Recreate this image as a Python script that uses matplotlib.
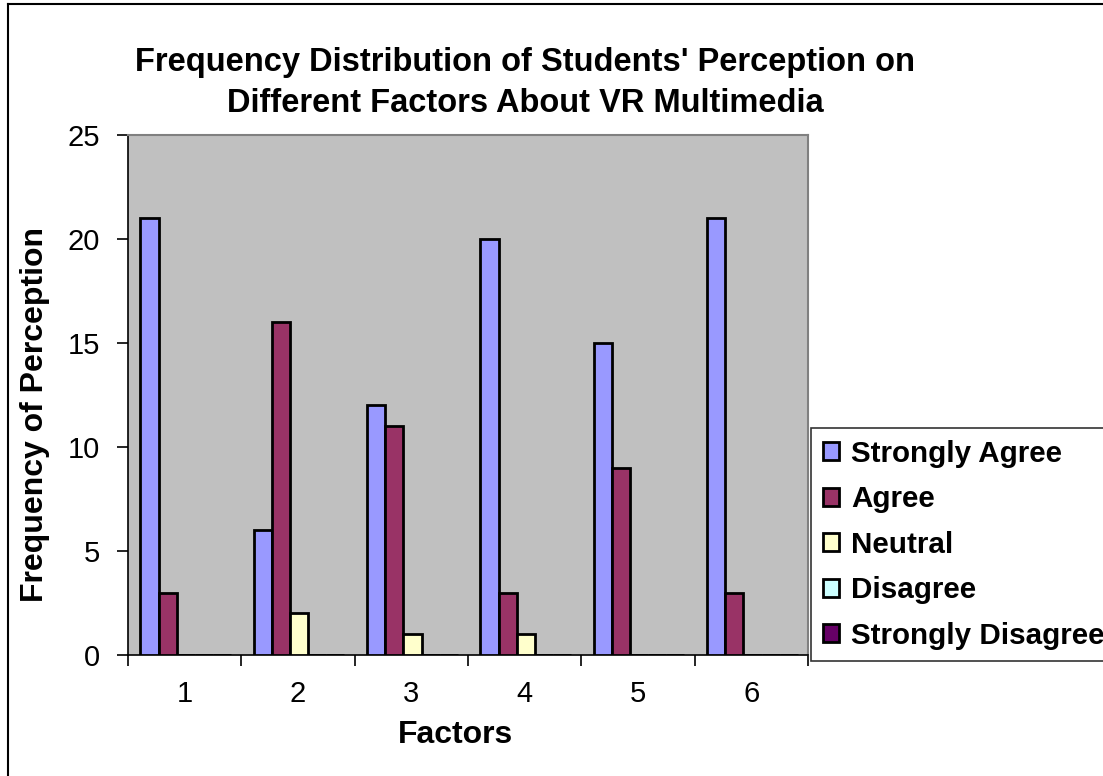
import matplotlib
matplotlib.use("Agg")
import matplotlib.pyplot as plt
import numpy as np
from matplotlib.lines import Line2D

categories = ["1", "2", "3", "4", "5", "6"]
series_names = ["Strongly Agree", "Agree", "Neutral", "Disagree", "Strongly Disagree"]
strongly_agree = [21, 6, 12, 20, 15, 21]
agree = [3, 16, 11, 3, 9, 3]
neutral = [0, 2, 1, 1, 0, 0]
disagree = [0, 0, 0, 0, 0, 0]
strongly_disagree = [0, 0, 0, 0, 0, 0]
yticks = [0, 5, 10, 15, 20, 25]
colors = ["#9999FF", "#993366", "#FFFFCC", "#CCFFFF", "#660066"]

plt.rcParams['font.family'] = ['Liberation Sans', 'DejaVu Sans']

fig = plt.figure(figsize=(11.03, 7.76), dpi=100)
ax = fig.add_axes([128/1103, 1-655/776, (808-128)/1103, (655-135)/776])
ax.set_facecolor("#C0C0C0")

data = [strongly_agree, agree, neutral, disagree, strongly_disagree]
x = np.arange(1, len(categories) + 1)
bw = 0.16
handles = []
for i, (vals, name, c) in enumerate(zip(data, series_names, colors)):
    offs = (i - 2) * bw + 0.01
    b = ax.bar(x + offs, vals, width=bw, color=c, edgecolor="black", linewidth=2.0, label=name, zorder=3)
    handles.append(b)

ax.set_xlim(0.5, 6.5)
ax.set_ylim(0, 25)
ax.set_yticks(yticks)
ax.set_yticklabels([str(t) for t in yticks], fontsize=21)
ax.tick_params(axis='y', direction='out', length=8, width=1.2, pad=12)
ax.set_xticks(np.arange(0.5, 7.0, 1.0))
ax.set_xticklabels([])
ax.set_xticks(x, minor=True)
ax.set_xticklabels(categories, minor=True, fontsize=21)
ax.tick_params(axis='x', which='major', direction='out', length=8, width=1.2)
ax.tick_params(axis='x', which='minor', length=0, pad=18)

for s in ['top', 'right']:
    ax.spines[s].set_color('#808080')
    ax.spines[s].set_linewidth(1.5)
for s in ['left', 'bottom']:
    ax.spines[s].set_color('black')
    ax.spines[s].set_linewidth(1.2)

ax.set_xlabel("Factors", fontsize=23, fontweight='bold')
ax.set_ylabel("Frequency of Perception", fontsize=23, fontweight='bold')
ax.xaxis.set_label_coords((455-128)/680, (655-735)/520)
ax.xaxis.label.set_va('center')
ax.yaxis.set_label_coords((35-128)/680, (655-415)/520)
ax.yaxis.label.set_va('center')

fig.text(525/1103, 1-62/776, "Frequency Distribution of Students' Perception on",
         ha='center', va='center', fontsize=23.5, fontweight='bold')
fig.text(525/1103, 1-104/776, "Different Factors About VR Multimedia",
         ha='center', va='center', fontsize=23.5, fontweight='bold')

leg = fig.legend(handles=handles, labels=series_names, loc='upper left',
                 bbox_to_anchor=(811/1103, 1-428/776), frameon=True, fancybox=False,
                 prop={'family': ['Liberation Sans', 'DejaVu Sans'], 'weight': 'bold', 'size': 21.3},
                 handlelength=0.55, handleheight=0.55, handletextpad=0.4,
                 labelspacing=0.59, borderpad=0.4, borderaxespad=0.0)
leg.get_frame().set_edgecolor('black')
leg.get_frame().set_linewidth(1.2)

# figure border (top and left visible)
fig.add_artist(Line2D([8/1103, 8/1103], [0, 1-4/776], transform=fig.transFigure, color='black', linewidth=1.5))
fig.add_artist(Line2D([8/1103, 1], [1-4/776, 1-4/776], transform=fig.transFigure, color='black', linewidth=1.5))

fig.savefig("out.png", dpi=100)
